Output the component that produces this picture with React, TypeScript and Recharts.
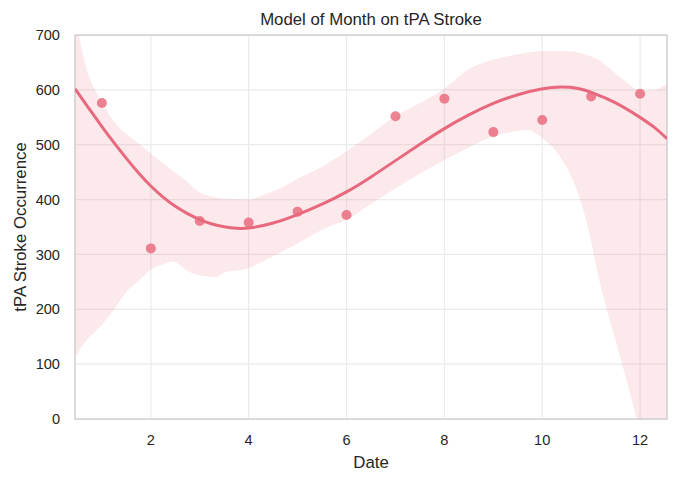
import {
  ComposedChart,
  Area,
  Line,
  Scatter,
  XAxis,
  YAxis,
  CartesianGrid,
  ReferenceArea,
  Label,
} from "recharts";

// monthly tPA stroke counts
const months = [1, 2, 3, 4, 5, 6, 7, 8, 9, 10, 11, 12];
const strokes = [576, 311, 361, 358, 378, 372, 552, 584, 523, 545, 588, 593];

// cubic fit
const fitX = [0.45, 0.75, 1, 1.25, 1.5, 1.75, 2, 2.25, 2.5, 2.75, 3, 3.25, 3.5, 3.75, 4, 4.5, 5, 5.5, 6, 6.5, 7, 7.5, 8, 8.5, 9, 9.5, 10, 10.4, 10.75, 11, 11.5, 12, 12.3, 12.55];
const fitY = [602, 564, 533, 503, 475, 448, 424, 404, 387, 374, 363, 355, 350, 347, 347, 356, 372, 391, 413, 441, 471, 501, 530, 555, 576, 592, 603, 606, 603, 596, 578, 550, 532, 511];

// confidence band
const bandX = [0.45, 0.7, 1, 1.25, 1.5, 1.75, 2, 2.25, 2.45, 2.75, 3, 3.35, 3.5, 4, 4.35, 4.75, 5, 5.5, 6, 6.5, 7, 7.5, 8, 8.5, 9, 9.4, 9.7, 10, 10.35, 10.65, 10.9, 11.2, 11.5, 11.75, 12, 12.3, 12.55];
const bandLow = [113, 145, 172, 200, 232, 252, 272, 282, 287, 270, 262, 259, 267, 275, 290, 308, 320, 345, 363, 392, 420, 447, 472, 495, 515, 524, 527, 512, 480, 430, 362, 240, 142, 62, -25, -130, -240];
const bandHigh = [735, 635, 578, 542, 520, 502, 484, 466, 452, 432, 413, 404, 402, 400, 410, 425, 438, 460, 488, 520, 552, 576, 602, 638, 655, 663, 668, 671, 671, 670, 664, 652, 630, 612, 598, 600, 611];

const xTicks = [2, 4, 6, 8, 10, 12];
const yTicks = [0, 100, 200, 300, 400, 500, 600, 700];

const color = "#e8697d";
const font = "'Liberation Sans', Arial, sans-serif";

const points = months.map((m, i) => ({ x: m, y: strokes[i] }));
const fit = fitX.map((x, i) => ({ x, fit: fitY[i] }));
const band = bandX.map((x, i) => ({ x, band: [bandLow[i], bandHigh[i]] }));

const Dot = (props: any) => (
  <circle cx={props.cx} cy={props.cy} r={5} fill={color} fillOpacity={0.82} />
);

export default function App() {
  return (
    <div style={{ position: "absolute", left: 0, top: 0, width: 686, height: 484, background: "#fff", fontFamily: font }}>
      <div
        style={{
          position: "absolute",
          left: 171,
          width: 400,
          top: 11,
          textAlign: "center",
          fontSize: 16.8,
          lineHeight: "17px",
          color: "#262626",
        }}
      >
        Model of Month on tPA Stroke
      </div>
      <ComposedChart width={686} height={484} margin={{ top: 35, right: 19, bottom: 0, left: 0 }}>
        <CartesianGrid stroke="#ebebeb" strokeWidth={1.2} />
        <XAxis
          dataKey="x"
          type="number"
          domain={[0.45, 12.55]}
          ticks={xTicks}
          allowDataOverflow
          height={65}
          tickLine={false}
          axisLine={false}
          tickMargin={10}
          tick={{ fontSize: 14.6, fill: "#262626", fontFamily: font }}
        >
          <Label value="Date" position="insideBottom" offset={16} style={{ fontSize: 16.8, fill: "#262626", fontFamily: font }} />
        </XAxis>
        <YAxis
          type="number"
          domain={[0, 700]}
          ticks={yTicks}
          allowDataOverflow
          width={75}
          tickLine={false}
          axisLine={false}
          tickMargin={9}
          tick={{ fontSize: 14.6, fill: "#262626", fontFamily: font }}
        >
          <Label
            value="tPA Stroke Occurrence"
            position="insideLeft"
            angle={-90}
            offset={20}
            textAnchor="middle"
            style={{ fontSize: 16.8, fill: "#262626", fontFamily: font, textAnchor: "middle" }}
          />
        </YAxis>
        <Scatter data={points} dataKey="y" shape={Dot} isAnimationActive={false} />
        <Area
          data={band}
          dataKey="band"
          type="monotone"
          stroke="none"
          fill={color}
          fillOpacity={0.15}
          isAnimationActive={false}
        />
        <Line
          data={fit}
          dataKey="fit"
          type="basis"
          stroke={color}
          strokeWidth={3}
          dot={false}
          activeDot={false}
          isAnimationActive={false}
        />
        <ReferenceArea x1={0.45} x2={12.55} y1={0} y2={700} fill="none" stroke="#cccccc" strokeWidth={1.25} />
      </ComposedChart>
    </div>
  );
}
